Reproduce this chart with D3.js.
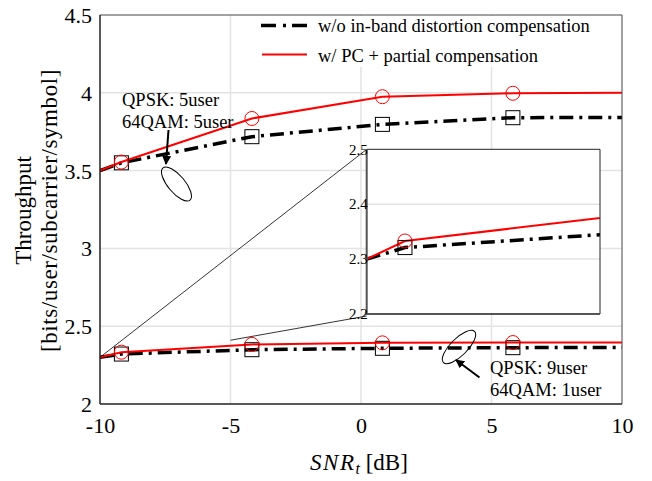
<!DOCTYPE html>
<meta charset="utf-8">
<script src="https://d3js.org/d3.v7.min.js"></script>
<style>
  body { margin: 0; background: #fff; }
  text { font-family: "Liberation Serif", "Times New Roman", serif; fill: #000; }
</style>
<body>
<script>
// Chart values
var xTicks = [-10, -5, 0, 5, 10];
var yTicks = [2, 2.5, 3, 3.5, 4, 4.5];
var insetTicks = [2.2, 2.3, 2.4, 2.5];
var snr = [-10, -9.18, -4.18, 0.82, 5.82, 10];      // line vertices
var markerIdx = [1, 2, 3, 4];                       // which vertices carry a marker
// QPSK 5user / 64QAM 5user
var upperNoComp = [3.50, 3.550, 3.718, 3.797, 3.840, 3.842];
var upperPC     = [3.50, 3.555, 3.835, 3.975, 3.997, 4.000];
// QPSK 9user / 64QAM 1user
var lowerNoComp = [2.30, 2.321, 2.349, 2.358, 2.362, 2.364];
var lowerPC     = [2.30, 2.333, 2.383, 2.393, 2.395, 2.395];
var legendLabels = ["w/o in-band distortion compensation", "w/ PC + partial compensation"];

var width = 652, height = 481;
var svg = d3.select("body").append("svg")
    .attr("width", width)
    .attr("height", height);

// main axes box
var x = d3.scaleLinear().domain([-10, 10]).range([100, 622]);
var y = d3.scaleLinear().domain([2, 4.5]).range([404, 15]);

// grid
svg.append("g").selectAll("line").data(xTicks.slice(1, -1)).enter().append("line")
    .attr("x1", function(d) { return x(d); }).attr("x2", function(d) { return x(d); })
    .attr("y1", y(4.5)).attr("y2", y(2))
    .attr("stroke", "#e3e3e3").attr("stroke-width", 1.5);
svg.append("g").selectAll("line").data(yTicks.slice(1, -1)).enter().append("line")
    .attr("x1", x(-10)).attr("x2", x(10))
    .attr("y1", function(d) { return y(d); }).attr("y2", function(d) { return y(d); })
    .attr("stroke", "#e3e3e3").attr("stroke-width", 1.5);

// tick labels (plain hyphen for negatives, as in the figure)
var xAxis = svg.append("g").attr("transform", "translate(0," + y(2) + ")")
    .call(d3.axisBottom(x).tickValues(xTicks).tickSize(0).tickPadding(8).tickFormat(function(d) { return String(d); }));
var yAxis = svg.append("g").attr("transform", "translate(" + x(-10) + ",0)")
    .call(d3.axisLeft(y).tickValues(yTicks).tickSize(0).tickPadding(8).tickFormat(function(d) { return String(d); }));
[xAxis, yAxis].forEach(function(a) {
  a.select(".domain").remove();
  a.selectAll("text").style("font-family", "Liberation Serif").style("font-size", "22px").attr("fill", "#000");
});
xAxis.selectAll("text").attr("dy", "0.95em");
yAxis.selectAll("text").attr("dy", "0.34em");

// series lines
var line = function(xs, ys) {
  return d3.line().x(function(d, i) { return xs(snr[i]); }).y(function(d) { return ys(d); });
};
var dashBlack = "14,6,3,6";

function drawSeries(g, xs, ys) {
  [upperNoComp, lowerNoComp].forEach(function(s) {
    g.append("path").datum(s).attr("d", line(xs, ys))
      .attr("fill", "none").attr("stroke", "#000").attr("stroke-width", 3.5)
      .attr("stroke-dasharray", dashBlack);
  });
  [upperPC, lowerPC].forEach(function(s) {
    g.append("path").datum(s).attr("d", line(xs, ys))
      .attr("fill", "none").attr("stroke", "#ff0000").attr("stroke-width", 2);
  });
  [upperNoComp, lowerNoComp].forEach(function(s) {
    g.append("g").selectAll("rect").data(markerIdx).enter().append("rect")
      .attr("x", function(i) { return xs(snr[i]) - 7; })
      .attr("y", function(i) { return ys(s[i]) - 7; })
      .attr("width", 14).attr("height", 14)
      .attr("fill", "none").attr("stroke", "#000").attr("stroke-width", 1);
  });
  [upperPC, lowerPC].forEach(function(s) {
    g.append("g").selectAll("circle").data(markerIdx).enter().append("circle")
      .attr("cx", function(i) { return xs(snr[i]); })
      .attr("cy", function(i) { return ys(s[i]); })
      .attr("r", 7)
      .attr("fill", "none").attr("stroke", "#ff0000").attr("stroke-width", 1);
  });
}

svg.append("clipPath").attr("id", "mainClip").append("rect")
    .attr("x", x(-10)).attr("y", y(4.5)).attr("width", x(10) - x(-10)).attr("height", y(2) - y(4.5));
drawSeries(svg.append("g").attr("clip-path", "url(#mainClip)"), x, y);

// zoom connector lines
var insetBox = {x0: 366.7, x1: 600, y0: 149.3, y1: 314};
svg.append("line").attr("x1", x(-10)).attr("y1", y(2.3))
    .attr("x2", insetBox.x0).attr("y2", insetBox.y0)
    .attr("stroke", "#000").attr("stroke-width", 0.8);
svg.append("line").attr("x1", x(-5)).attr("y1", y(2.41))
    .attr("x2", insetBox.x0).attr("y2", insetBox.y1 + 2)
    .attr("stroke", "#000").attr("stroke-width", 0.8);

// main frame
svg.append("line").attr("x1", x(-10)).attr("x2", x(10)).attr("y1", y(4.5)).attr("y2", y(4.5))
    .attr("stroke", "#444").attr("stroke-width", 1);
svg.append("line").attr("x1", x(10)).attr("x2", x(10)).attr("y1", y(4.5)).attr("y2", y(2))
    .attr("stroke", "#444").attr("stroke-width", 1);
svg.append("line").attr("x1", x(-10)).attr("x2", x(10)).attr("y1", y(2)).attr("y2", y(2))
    .attr("stroke", "#222").attr("stroke-width", 1.5);
svg.append("line").attr("x1", x(-10)).attr("x2", x(-10)).attr("y1", y(4.5)).attr("y2", y(2))
    .attr("stroke", "#222").attr("stroke-width", 1.5);

// inset
var xi = d3.scaleLinear().domain([-10, -5]).range([insetBox.x0, insetBox.x1]);
var yi = d3.scaleLinear().domain([2.2, 2.5]).range([insetBox.y1, insetBox.y0]);
var inset = svg.append("g");
inset.append("rect").attr("x", insetBox.x0).attr("y", insetBox.y0)
    .attr("width", insetBox.x1 - insetBox.x0).attr("height", insetBox.y1 - insetBox.y0)
    .attr("fill", "#fff");
inset.append("g").selectAll("line").data(insetTicks.slice(1, -1)).enter().append("line")
    .attr("x1", insetBox.x0).attr("x2", insetBox.x1)
    .attr("y1", function(d) { return yi(d); }).attr("y2", function(d) { return yi(d); })
    .attr("stroke", "#e3e3e3").attr("stroke-width", 1.5);
svg.append("clipPath").attr("id", "insetClip").append("rect")
    .attr("x", insetBox.x0).attr("y", insetBox.y0)
    .attr("width", insetBox.x1 - insetBox.x0).attr("height", insetBox.y1 - insetBox.y0);
drawSeries(inset.append("g").attr("clip-path", "url(#insetClip)"), xi, yi);
inset.append("path")
    .attr("d", "M" + insetBox.x0 + "," + insetBox.y0 + "H" + insetBox.x1 + "V" + insetBox.y1)
    .attr("fill", "none").attr("stroke", "#222").attr("stroke-width", 1);
inset.append("path")
    .attr("d", "M" + insetBox.x0 + "," + insetBox.y0 + "V" + insetBox.y1 + "H" + insetBox.x1)
    .attr("fill", "none").attr("stroke", "#555").attr("stroke-width", 2);
inset.append("g").selectAll("text").data(insetTicks).enter().append("text")
    .attr("x", insetBox.x0 + 1)
    .attr("y", function(d) { return yi(d); })
    .attr("dy", "0.35em")
    .attr("text-anchor", "end")
    .style("font-size", "15px")
    .text(function(d) { return d.toFixed(1); });

// legend
var legend = svg.append("g");
legend.append("rect").attr("x", 250).attr("y", y(4.5) + 1).attr("width", x(10) - 251).attr("height", 51)
    .attr("fill", "#fff");
legend.append("line").attr("x1", 261).attr("x2", 307).attr("y1", 25.5).attr("y2", 25.5)
    .attr("stroke", "#000").attr("stroke-width", 3.5).attr("stroke-dasharray", "15,7,3,6");
legend.append("line").attr("x1", 262).attr("x2", 307).attr("y1", 54.5).attr("y2", 54.5)
    .attr("stroke", "#ff0000").attr("stroke-width", 2);
legend.selectAll("text").data(legendLabels).enter().append("text")
    .attr("x", 318)
    .attr("y", function(d, i) { return 31.5 + i * 30; })
    .style("font-size", "18.5px")
    .text(function(d) { return d; });

// annotations
function note(lines, x0, y0) {
  svg.append("g").selectAll("text").data(lines).enter().append("text")
    .attr("x", x0).attr("y", function(d, i) { return y0 + i * 22; })
    .style("font-size", "18.5px")
    .text(function(d) { return d; });
}
note(["QPSK: 5user", "64QAM: 5user"], 122, 106);
note(["QPSK: 9user", "64QAM: 1user"], 490, 373.5);

svg.append("defs").append("marker").attr("id", "head")
    .attr("viewBox", "0 0 10 10").attr("refX", 9).attr("refY", 5)
    .attr("markerWidth", 4.5).attr("markerHeight", 4.5).attr("orient", "auto")
    .append("path").attr("d", "M0,0L10,5L0,10z").attr("fill", "#000");

svg.append("line").attr("x1", 168.5).attr("y1", 130).attr("x2", 166).attr("y2", 164)
    .attr("stroke", "#000").attr("stroke-width", 2).attr("marker-end", "url(#head)");
svg.append("line").attr("x1", 479.5).attr("y1", 377.5).attr("x2", 456).attr("y2", 360)
    .attr("stroke", "#000").attr("stroke-width", 2).attr("marker-end", "url(#head)");

svg.append("ellipse").attr("cx", 0).attr("cy", 0).attr("rx", 21).attr("ry", 8.5)
    .attr("transform", "translate(176.5,184) rotate(50)")
    .attr("fill", "none").attr("stroke", "#000").attr("stroke-width", 1);
svg.append("ellipse").attr("cx", 0).attr("cy", 0).attr("rx", 22).attr("ry", 8.5)
    .attr("transform", "translate(459,347) rotate(-45)")
    .attr("fill", "none").attr("stroke", "#000").attr("stroke-width", 1);

// axis titles
var yl = svg.append("text")
    .attr("transform", "translate(31," + ((y(2) + y(4.5)) / 2 + 1) + ") rotate(-90)")
    .attr("text-anchor", "middle")
    .style("font-size", "23px");
yl.append("tspan").attr("x", 0).attr("y", 0).text("Throughput");
yl.append("tspan").attr("x", 0).attr("y", 26).attr("letter-spacing", "0.6px").text("[bits/user/subcarrier/symbol]");

var xl = svg.append("text")
    .attr("x", x(0) - 2).attr("y", 470)
    .attr("text-anchor", "middle")
    .style("font-size", "23px");
xl.append("tspan").style("font-style", "italic").attr("letter-spacing", "1.5px").text("SNR");
xl.append("tspan").style("font-style", "italic").style("font-size", "16px").attr("dy", 4).text("t");
xl.append("tspan").attr("dy", -4).text(" [dB]");
</script>
</body>
</html>
